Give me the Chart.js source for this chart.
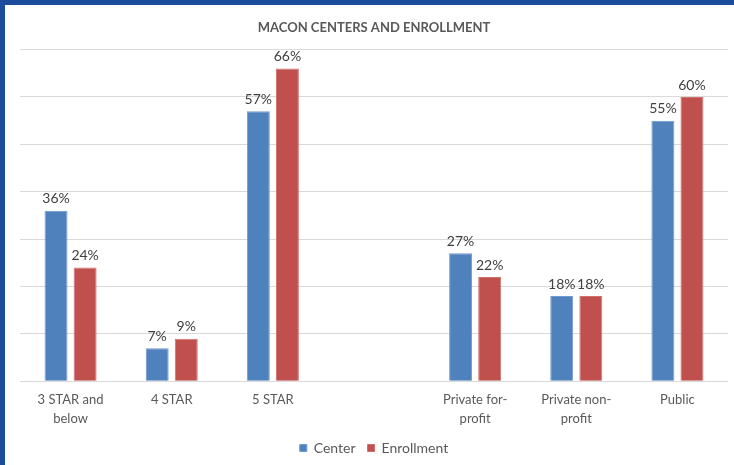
<!DOCTYPE html>
<html>
<head>
<meta charset="utf-8">
<script src="https://cdn.jsdelivr.net/npm/chart.js@4.4.0/dist/chart.umd.min.js"></script>
<style>
    html, body { margin: 0; padding: 0; background: #fff; }
    #frame {
        width: 734px;
        height: 465px;
        box-sizing: border-box;
        border-top: 5px solid #1c4d9c;
        border-left: 5px solid #1c4d9c;
        position: relative;
    }
    #frame canvas { display: block; }
</style>
</head>
<body>
<div id="frame"><canvas id="maconChart" width="729" height="460"></canvas></div>
<script>
// data
const categories = [["3 STAR and", "below"], "4 STAR", "5 STAR", "", ["Private for-", "profit"], ["Private non-", "profit"], "Public"];
const centerValues = [36, 7, 57, null, 27, 18, 55];
const enrollmentValues = [24, 9, 66, null, 22, 18, 60];
const yTicks = [0, 10, 20, 30, 40, 50, 60, 70];

const fontFamily = "Lato, 'Open Sans', sans-serif";

// small inline replacement for the datalabels plugin
const barLabels = {
    id: 'barLabels',
    afterDatasetsDraw(chart) {
        const ctx = chart.ctx;
        ctx.save();
        ctx.font = "14px " + fontFamily;
        ctx.fillStyle = "#404040";
        ctx.textAlign = "center";
        ctx.textBaseline = "bottom";
        chart.data.datasets.forEach((ds, i) => {
            const meta = chart.getDatasetMeta(i);
            meta.data.forEach((bar, j) => {
                const v = ds.data[j];
                if (v === null || v === undefined) return;
                ctx.fillText(v + "%", bar.x, bar.y - 5);
            });
        });
        ctx.restore();
    }
};

const ctx = document.getElementById("maconChart").getContext('2d');

const maconChart = new Chart(ctx, {
    type: 'bar',
    plugins: [barLabels],
    data: {
        labels: categories,
        datasets: [{
            label: "Center",
            data: centerValues,
            backgroundColor: "#4f81bd",
            borderColor: "#6f98cc",
            borderWidth: 1,
            barPercentage: 0.79,
            categoryPercentage: 0.575
        }, {
            label: "Enrollment",
            data: enrollmentValues,
            backgroundColor: "#c0504d",
            borderColor: "#cf706d",
            borderWidth: 1,
            barPercentage: 0.79,
            categoryPercentage: 0.575
        }]
    },
    options: {
        responsive: false,
        animation: false,
        layout: {
            padding: { left: 15, right: 6, top: 0, bottom: 0 }
        },
        plugins: {
            title: {
                display: true,
                text: "MACON CENTERS AND ENROLLMENT",
                color: "#595959",
                font: { family: fontFamily, size: 13, weight: 'bold' },
                padding: { top: 15, bottom: 14 }
            },
            legend: {
                position: 'bottom',
                labels: {
                    color: "#595959",
                    font: { family: fontFamily, size: 14 },
                    boxWidth: 7,
                    boxHeight: 7,
                    padding: 12
                }
            },
            tooltip: { enabled: false }
        },
        scales: {
            x: {
                grid: { display: false },
                border: { display: false },
                ticks: {
                    color: "#595959",
                    font: { family: fontFamily, size: 13, lineHeight: 1.45 },
                    padding: 1,
                    maxRotation: 0,
                    autoSkip: false
                }
            },
            y: {
                min: yTicks[0],
                max: yTicks[yTicks.length - 1],
                afterBuildTicks: (axis) => {
                    axis.ticks = yTicks.map(v => ({ value: v }));
                },
                grid: { color: "#d9d9d9", drawTicks: false },
                border: { display: false },
                ticks: { display: false }
            }
        }
    }
});
</script>
</body>
</html>
